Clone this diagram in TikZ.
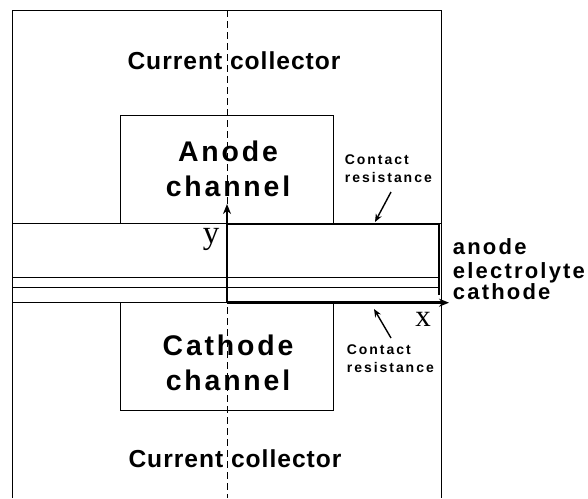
\documentclass[tikz,border=0pt]{standalone}
\usepackage{fontspec}
\setmainfont{Liberation Sans}
\newfontfamily\axisfont{Liberation Serif}
\usetikzlibrary{arrows.meta}

\begin{document}
\begin{tikzpicture}[x=1pt, y=-1pt,
	every node/.style = {inner sep=0pt},
	thin line/.style = {line width=0.9pt},
	thick line/.style = {line width=2.6pt},
	axis/.style = {thick line, -{Stealth[length=10pt,width=8pt]}},
	pointer/.style = {line width=1.4pt, -{Stealth[length=8pt,width=6.5pt]}},
	cclabel/.style = {font=\fontsize{24.6}{30}\selectfont\bfseries\addfontfeature{LetterSpace=4}},
	chlabel/.style = {align=center, font=\fontsize{28.4}{35.5}\selectfont\bfseries\addfontfeature{LetterSpace=10}},
	layerlabel/.style = {anchor=base west, font=\fontsize{22}{26}\selectfont\bfseries\addfontfeature{LetterSpace=10}},
	crlabel/.style = {anchor=north west, align=left, font=\fontsize{14}{17.8}\selectfont\bfseries\addfontfeature{LetterSpace=14}},
	axlabel/.style = {anchor=base, font=\axisfont\fontsize{#1}{#1}\selectfont}]
	\useasboundingbox (0,0) rectangle (588,498);
	% collector frame and channels
	\draw[thin line] (12,498) -- (12,10) -- (441,10) -- (441,498);
	\draw[thin line] (120.7,223) -- (120.7,115.7) -- (333,115.7) -- (333,223);
	\draw[thin line] (120.7,302.7) -- (120.7,410) -- (333,410) -- (333,302.7);
	% layers
	\draw[thin line] (12,223) -- (441,223);
	\draw[thin line] (12,277) -- (439,277);
	\draw[thin line] (12,287) -- (439,287);
	\draw[thin line] (12,302.7) -- (441,302.7);
	% symmetry line
	\draw[thin line, dash pattern=on 7pt off 4pt] (227,10) -- (227,498);
	% domain and axes
	\coordinate (origin) at (227,302.7);
	\coordinate (ytip) at (227,204);
	\coordinate (xtip) at (449,302.7);
	\draw[thick line] (227,224) -- (439,224) -- (439,295);
	\draw[axis] (origin) -- (ytip);
	\draw[axis] (origin) -- (xtip);
	\node[axlabel=33] (ylab) at (211,243) {y};
	\node[axlabel=31] (xlab) at (423,326.7) {x};
	% labels
	\node[cclabel, anchor=base] (cctop) at (234,69.3) {Current collector};
	\node[cclabel, anchor=base] (ccbot) at (235,467.6) {Current collector};
	\node[chlabel] (anch) at (228,168.8) {Anode\\channel};
	\node[chlabel] (cach) at (228,362.9) {Cathode\\channel};
	\node[layerlabel] (anode) at (452.7,254) {anode};
	\node[layerlabel] (elyte) at (452.7,278) {electrolyte};
	\node[layerlabel] (cathode) at (452.7,299) {cathode};
	\node[crlabel] (crtop) at (344.7,154.7) {Contact\\resistance};
	\node[crlabel] (crbot) at (346.7,344.7) {Contact\\resistance};
	\coordinate (crtoptail) at (391,192);
	\coordinate (crtophead) at (375,222);
	\coordinate (crbottail) at (391,338);
	\coordinate (crbothead) at (374,309);
	\draw[pointer] (crtoptail) -- (crtophead);
	\draw[pointer] (crbottail) -- (crbothead);
\end{tikzpicture}
\end{document}
